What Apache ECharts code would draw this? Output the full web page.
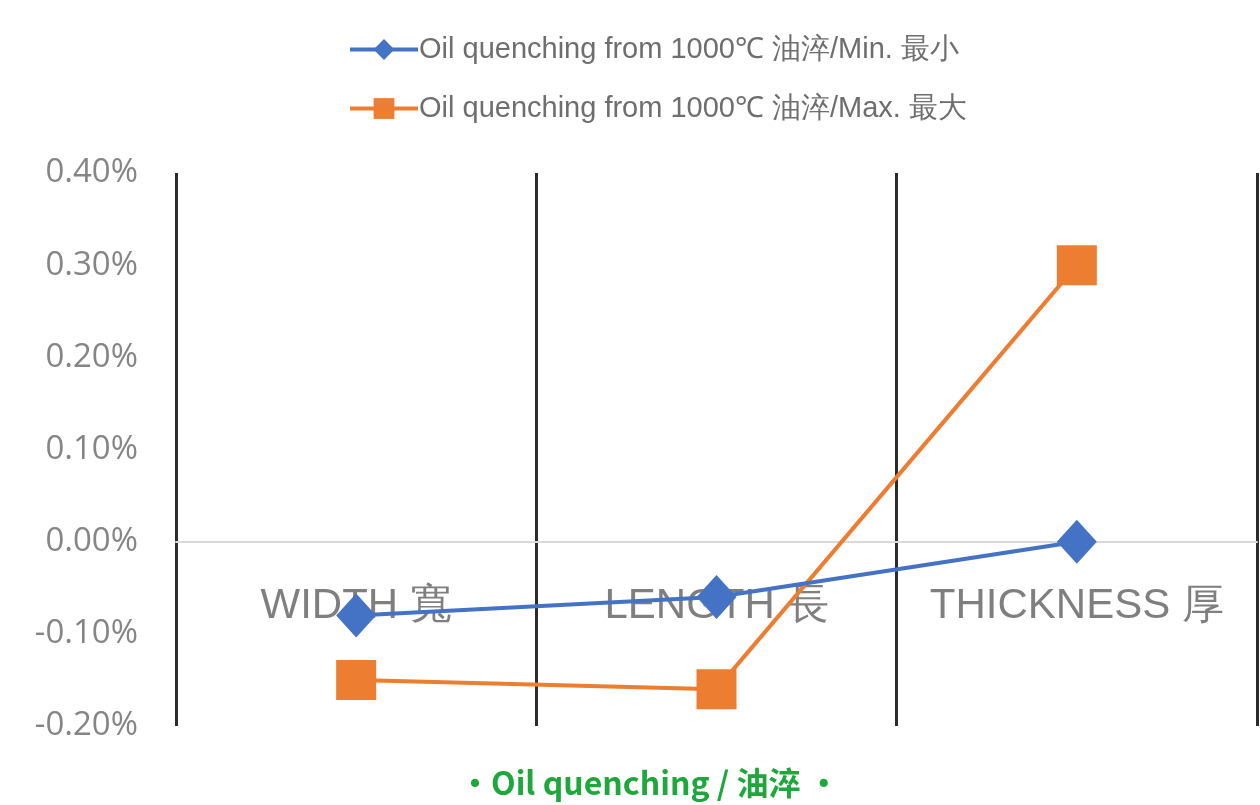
<!DOCTYPE html>
<html>
<head>
<meta charset="utf-8">
<script src="https://cdn.jsdelivr.net/npm/echarts@6/dist/echarts.min.js"></script>
<style>
  html, body { margin: 0; padding: 0; background: #ffffff; }
  #chart { width: 1260px; height: 805px; }
</style>
</head>
<body>
<div id="chart"></div>
<script>
// Dimensional change after oil quenching, in percent
const categories = ['WIDTH 寬', 'LENGTH 長', 'THICKNESS 厚'];
const minValues = [-0.08, -0.06, 0.00];
const maxValues = [-0.15, -0.16, 0.30];
const seriesNames = [
  'Oil quenching from 1000℃ 油淬/Min. 最小',
  'Oil quenching from 1000℃ 油淬/Max. 最大'
];
const titleText = '・Oil quenching / 油淬 ・';

const chart = echarts.init(document.getElementById('chart'), null, { renderer: 'canvas' });

// The category axis sits on the 0.00% line; its offset lifts it from the grid bottom
const gridTop = 173, gridBottom = 79, plotHeight = 805 - gridTop - gridBottom;
const yMin = -0.2, yMax = 0.4;
const zeroOffset = -plotHeight * (0 - yMin) / (yMax - yMin);

chart.setOption({
  animation: false,
  backgroundColor: '#ffffff',
  title: {
    text: titleText,
    left: 454,
    bottom: 1,
    textStyle: {
      fontFamily: '"Noto Sans CJK SC", "Noto Sans", sans-serif',
      fontWeight: 'bold',
      fontSize: 32,
      color: '#1ea83c'
    }
  },
  legend: {
    orient: 'vertical',
    left: 343,
    top: 30,
    itemWidth: 68,
    itemHeight: 26,
    itemGap: 30,
    lineStyle: { width: 4 },
    textStyle: {
      fontFamily: '"Liberation Sans", Arial, sans-serif',
      fontSize: 29,
      color: '#6e6e6e',
      padding: [0, 0, 0, -4]
    },
    data: seriesNames
  },
  grid: {
    left: 176,
    right: 3,
    top: gridTop,
    bottom: gridBottom,
    containLabel: false,
    outerBoundsMode: 'none'
  },
  xAxis: {
    type: 'category',
    data: categories,
    boundaryGap: true,
    position: 'bottom',
    offset: zeroOffset,
    axisLine: { onZero: false, lineStyle: { color: '#d9d9d9', width: 2 } },
    axisTick: { show: false },
    axisLabel: {
      interval: 0,
      margin: 44,
      fontFamily: '"Liberation Sans", Arial, sans-serif',
      fontSize: 42,
      color: '#7f7f7f'
    },
    splitLine: {
      show: true,
      interval: 0,
      lineStyle: { color: '#2b2b2b', width: 3 }
    }
  },
  yAxis: {
    type: 'value',
    min: yMin,
    max: yMax,
    interval: 0.1,
    axisLine: { show: false },
    axisTick: { show: false },
    splitLine: { show: false },
    axisLabel: {
      margin: 38,
      fontFamily: '"Open Sans", "Noto Sans", sans-serif',
      fontSize: 33,
      color: '#858585',
      formatter: v => v.toFixed(2) + '%'
    }
  },
  series: [
    {
      name: seriesNames[0],
      type: 'line',
      data: minValues,
      symbol: 'diamond',
      symbolSize: [40, 44],
      lineStyle: { color: '#4472c4', width: 4 },
      itemStyle: { color: '#4472c4' },
      z: 3
    },
    {
      name: seriesNames[1],
      type: 'line',
      data: maxValues,
      symbol: 'rect',
      symbolSize: 40,
      lineStyle: { color: '#ed7d31', width: 4 },
      itemStyle: { color: '#ed7d31' },
      z: 2
    }
  ]
});
</script>
</body>
</html>
